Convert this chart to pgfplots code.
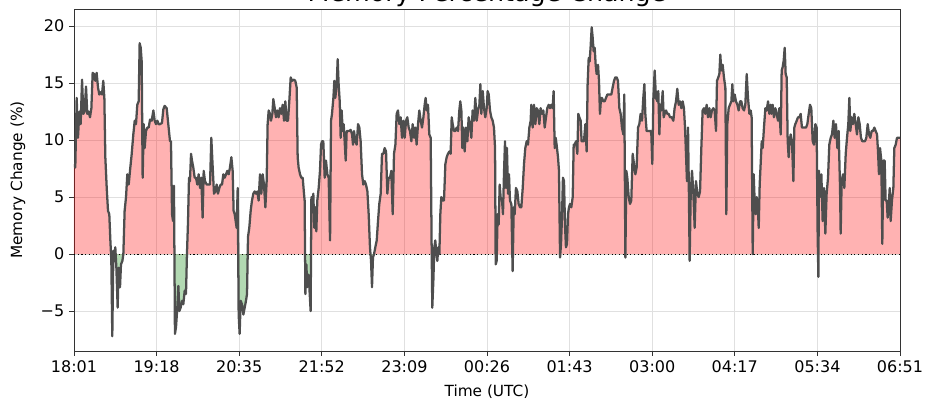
\documentclass[border=0pt]{standalone}
\usepackage{fontspec}
\setmainfont{DejaVu Sans}
\usepackage{pgfplots}
\usepackage{pgfplotstable}
\pgfplotsset{compat=1.18}
\usetikzlibrary{calc}
\definecolor{linegray}{RGB}{78,78,78}
\definecolor{gridgray}{RGB}{224,224,224}
\definecolor{mplgreen}{RGB}{0,128,0}
\pgfplotstableread{
t v
0.0 7.9
1.2 7.6
2.5 13.7
3.7 10.2
5.0 12.5
6.2 11.4
7.5 15.3
8.7 12.3
9.9 12.5
11.2 14.7
12.4 12.3
13.7 12.5
14.9 12.0
16.2 12.8
17.4 15.9
18.6 15.8
19.9 15.2
21.1 15.9
22.4 14.6
23.6 14.0
24.9 14.2
26.1 14.0
27.3 15.2
28.3 13.7
29.2 8.5
30.5 5.8
31.7 3.8
32.9 3.5
33.9 1.2
34.8 -0.6
35.7 -7.2
36.7 0.3
37.6 -0.6
38.5 0.6
39.5 -1.2
40.7 -4.7
41.6 -1.2
42.9 -2.9
43.8 -0.9
45.1 -0.6
46.0 0.0
47.2 3.8
48.5 5.0
49.7 7.0
51.0 6.1
52.2 7.3
53.8 8.8
55.3 10.5
56.6 11.7
57.8 11.4
59.0 13.1
60.3 13.4
61.2 18.5
62.2 18.1
63.1 16.9
64.0 6.7
65.0 11.4
65.9 9.3
67.1 10.8
68.4 11.1
69.6 11.1
70.9 11.8
72.4 11.7
74.0 12.6
75.2 11.7
76.4 11.4
77.7 11.7
78.9 11.4
80.2 11.4
82.0 11.5
83.3 12.7
84.5 13.0
86.4 12.8
87.9 11.4
89.5 9.9
90.4 9.9
91.4 3.5
92.3 2.9
93.2 6.0
94.1 -7.0
95.1 -6.4
96.3 -4.7
97.3 -2.8
98.2 -5.0
99.4 -4.7
100.7 -4.1
101.9 -4.4
103.2 -3.2
104.4 -3.5
105.3 0.0
106.3 2.9
107.2 6.7
108.1 6.4
109.1 8.8
110.0 8.2
111.2 7.6
112.5 6.7
113.7 6.7
115.0 6.1
116.2 7.0
117.5 5.8
118.7 6.7
119.9 3.2
120.9 7.3
122.1 6.4
123.7 6.1
125.2 6.1
126.8 6.1
128.0 10.2
129.3 7.6
130.5 5.3
131.8 5.5
133.0 6.1
134.2 5.3
135.5 5.8
136.7 6.1
138.0 6.1
139.2 7.0
140.5 6.7
141.7 7.0
142.9 7.3
144.2 7.0
145.4 7.6
146.7 8.5
147.9 7.3
148.8 3.8
149.8 3.5
150.7 2.9
151.6 2.3
152.6 5.8
153.5 -5.3
154.4 -7.0
155.4 -4.1
156.6 -4.4
157.9 -5.3
159.1 -4.7
160.3 -4.1
161.3 -3.5
162.2 1.5
163.4 2.3
164.7 3.8
165.9 4.7
167.2 5.3
168.4 5.5
169.7 5.3
170.9 5.5
172.1 4.7
173.4 7.0
174.6 5.3
175.9 7.0
177.1 6.1
178.4 4.1
179.6 6.4
180.5 11.4
181.5 12.6
182.7 12.3
183.6 11.7
184.9 12.3
185.8 13.6
187.1 12.8
188.3 12.0
189.5 12.6
190.8 12.0
192.0 12.8
193.3 12.3
194.5 13.1
195.8 11.7
197.0 13.4
198.2 11.7
199.5 11.7
200.7 13.4
202.0 15.5
203.2 15.2
205.1 15.3
206.3 15.2
207.6 14.6
208.5 8.5
209.4 7.6
210.7 7.0
211.9 6.7
213.2 6.7
214.4 5.3
215.0 4.7
215.7 -3.5
216.6 -0.9
217.5 -2.9
218.5 -1.8
219.4 -2.9
220.6 -5.0
221.3 5.0
222.2 4.4
223.1 5.3
224.0 2.3
225.0 4.1
225.9 2.0
226.8 4.7
228.1 5.8
229.3 7.3
230.3 9.6
231.2 9.9
232.4 9.9
233.7 6.7
234.9 8.2
236.2 7.0
237.4 6.7
238.7 1.2
239.6 11.7
240.5 12.3
241.8 13.7
242.7 15.2
243.6 13.7
244.9 14.9
245.8 17.1
246.7 14.9
247.7 13.4
248.6 10.2
249.5 12.6
250.5 10.8
251.4 11.4
252.3 9.9
253.3 8.2
254.2 10.8
255.4 10.8
256.7 10.8
257.9 10.9
259.2 10.5
260.1 9.6
261.0 10.8
262.3 9.9
263.5 9.6
264.8 11.4
266.0 11.1
267.2 9.9
268.5 7.0
269.7 6.1
271.0 6.4
272.2 6.1
273.5 5.5
274.7 3.5
275.9 0.6
276.9 -0.6
277.8 -2.9
278.7 -0.3
279.7 0.0
280.9 0.6
282.2 1.2
283.4 2.9
284.6 4.4
285.9 5.3
287.1 8.8
288.4 8.8
289.6 9.3
290.9 9.0
292.1 5.3
293.3 6.7
294.6 6.7
295.8 7.3
297.1 3.5
298.3 8.8
299.6 9.6
300.8 12.3
302.0 12.6
303.3 11.4
304.5 12.0
305.8 10.2
307.0 11.7
308.3 10.2
309.5 11.7
310.7 12.0
312.0 11.1
313.2 10.8
314.5 9.9
315.7 11.4
317.0 10.2
318.2 11.1
319.4 9.6
320.7 11.4
321.9 12.6
323.2 11.7
324.4 11.1
325.7 12.0
326.9 13.1
327.8 13.7
328.8 12.6
330.0 13.1
331.2 10.5
332.5 10.2
333.4 0.6
334.0 -4.7
335.0 -2.3
335.9 0.6
336.8 1.2
337.8 0.0
338.7 -0.6
339.6 0.6
340.6 0.0
341.5 3.5
342.4 5.0
343.7 4.7
344.9 4.7
346.2 7.9
347.4 8.5
348.6 8.8
349.9 9.0
351.1 8.8
352.1 12.0
353.0 11.4
354.2 10.8
355.5 10.8
356.7 11.1
358.0 10.8
359.2 12.6
360.1 13.4
361.1 12.6
362.0 9.3
362.9 11.1
364.2 9.0
365.4 11.1
366.7 9.9
367.9 12.0
369.2 11.4
370.4 10.2
371.6 12.6
372.9 11.7
374.1 13.7
375.4 11.7
376.6 12.6
377.9 13.1
378.8 14.9
379.7 12.3
381.0 14.3
382.2 12.8
383.4 12.0
384.7 12.8
385.6 14.3
386.6 14.0
387.8 12.6
389.0 12.0
390.3 11.7
391.5 11.1
392.5 9.3
393.1 -0.9
394.0 -0.6
394.9 3.5
395.9 2.6
396.8 6.1
397.7 5.0
399.0 4.7
399.9 3.5
400.9 7.3
401.8 9.9
402.7 5.8
403.6 9.3
404.6 5.3
405.5 7.0
406.4 4.7
407.7 4.4
408.9 -1.5
409.9 4.1
410.8 3.5
412.0 5.8
413.3 5.5
414.5 4.4
415.8 4.1
417.0 4.1
418.3 5.8
419.5 7.9
420.7 9.3
422.0 9.9
423.2 9.6
424.5 11.1
425.7 11.7
426.3 13.1
427.6 11.1
428.8 13.1
430.1 11.4
431.3 12.8
432.5 12.6
433.8 11.4
435.0 12.8
436.3 12.3
437.5 12.6
438.8 11.1
440.0 12.0
441.2 12.8
442.5 13.1
443.7 12.8
445.0 13.1
446.2 12.8
447.1 14.3
448.1 9.3
449.0 10.2
449.9 9.6
451.2 8.5
452.1 7.3
453.1 -0.3
454.0 0.9
454.9 3.2
455.8 6.7
456.8 6.4
457.7 2.6
458.6 0.6
459.6 0.9
460.5 3.5
461.4 4.1
462.4 4.4
463.6 4.1
464.9 5.0
465.8 9.6
466.7 9.6
468.0 9.9
469.2 8.8
470.1 12.3
471.1 12.0
472.3 11.7
473.2 9.9
474.2 9.9
475.4 9.9
476.7 11.4
477.9 9.0
478.8 14.9
479.8 17.2
480.7 16.9
481.6 18.2
482.6 19.9
483.5 19.0
484.4 17.8
485.4 18.1
486.3 16.6
487.2 15.8
488.5 16.6
489.4 15.2
490.3 12.3
491.3 13.7
492.2 13.7
493.4 13.4
494.7 13.4
495.9 13.7
497.2 14.0
498.4 14.0
499.7 14.0
500.9 14.0
502.1 14.6
503.4 15.2
504.6 15.5
505.9 15.5
507.1 15.2
508.4 12.8
509.6 12.3
510.8 11.1
512.1 10.5
513.0 14.0
514.0 -0.3
514.9 7.3
515.8 6.7
517.1 5.0
518.3 4.4
519.5 4.7
520.8 8.8
522.0 7.9
523.3 7.0
524.5 7.6
525.8 11.1
527.0 11.4
528.2 12.3
529.5 11.7
530.7 13.7
531.7 14.9
532.6 12.3
533.8 10.8
535.7 10.8
537.6 10.8
538.2 10.5
539.1 7.9
540.1 13.7
541.3 16.1
542.5 13.7
543.8 13.4
544.7 14.3
545.7 10.5
546.6 13.1
547.5 12.6
548.8 14.3
549.7 12.0
550.6 12.3
551.9 12.6
553.1 12.3
554.4 12.3
555.6 12.0
557.2 12.0
558.7 11.7
559.9 12.8
561.2 13.4
562.4 14.5
563.7 13.1
564.9 13.4
566.2 12.8
567.4 13.4
568.6 12.8
569.6 11.1
570.5 8.8
571.4 6.4
572.4 11.1
573.3 4.7
573.9 -0.6
574.9 5.3
576.1 7.3
577.3 5.5
578.6 2.3
579.8 6.4
581.1 5.3
582.3 5.0
583.6 5.5
584.8 9.3
586.0 12.6
587.3 12.8
588.5 12.3
589.8 13.1
591.0 12.0
592.3 12.8
593.5 12.0
594.7 12.6
596.0 12.8
597.2 12.6
598.5 10.8
599.4 15.2
600.6 15.5
601.6 15.8
602.5 17.5
603.4 16.1
604.7 16.6
605.9 15.5
607.2 14.6
608.1 3.5
609.0 11.4
610.3 12.8
611.5 13.1
612.8 13.4
613.7 14.9
614.6 13.4
615.9 14.0
617.1 13.4
618.4 13.1
619.6 12.6
620.9 13.4
622.1 13.4
623.3 12.8
624.6 12.6
625.8 13.1
627.1 15.8
628.3 13.7
629.6 12.3
630.8 12.6
631.7 12.0
632.7 0.0
633.6 7.0
634.5 4.7
635.5 3.5
636.4 5.0
637.3 4.4
638.3 2.3
639.2 6.1
640.1 7.9
641.1 9.9
642.0 9.3
643.2 11.1
644.5 12.8
645.7 12.6
647.0 13.4
648.2 12.3
649.4 13.1
650.1 12.3
651.3 13.1
652.5 12.0
653.8 12.8
655.0 12.3
656.3 11.7
657.5 12.8
658.8 10.5
659.7 16.1
660.6 16.4
661.6 17.0
662.5 18.1
663.4 15.8
664.4 15.5
665.3 9.9
666.2 8.5
667.1 9.9
668.1 10.5
669.3 9.9
670.6 6.4
671.5 11.1
672.4 11.4
673.7 11.7
674.9 12.0
676.2 12.0
677.4 12.3
678.6 11.1
679.9 11.1
681.1 11.1
682.4 11.1
683.6 11.4
684.9 12.3
686.1 13.1
687.3 12.8
688.6 9.9
689.8 9.6
691.1 11.4
692.3 11.1
693.2 2.0
693.9 -2.0
694.5 7.3
695.4 5.0
696.7 7.0
697.9 2.9
699.2 5.8
700.4 1.8
701.6 5.3
702.9 6.7
704.1 9.6
705.4 10.2
706.6 10.5
707.9 11.7
709.1 10.2
710.3 11.4
711.6 9.3
712.8 10.8
714.1 5.8
714.7 1.8
715.6 6.4
716.9 7.0
718.1 5.8
719.4 8.8
720.6 10.2
721.8 11.4
722.8 13.7
723.7 10.8
724.9 12.0
726.2 11.4
727.4 12.3
728.7 11.4
729.9 10.5
731.2 12.0
732.4 11.4
733.6 10.2
734.9 9.9
736.1 9.9
737.4 9.9
738.6 10.2
739.9 11.4
741.1 10.5
742.3 10.2
743.6 10.8
744.8 10.8
746.1 11.1
747.3 10.8
748.6 10.5
749.5 9.0
750.4 7.0
751.4 9.3
752.6 8.2
753.5 0.9
754.5 8.2
755.7 8.2
756.6 4.7
757.6 4.7
758.5 3.2
759.4 4.1
760.4 5.8
761.3 2.9
762.5 4.7
763.8 5.8
764.7 9.3
766.0 9.6
767.2 10.2
768.4 10.2
770.0 10.2
}\memdata
\begin{document}
\begin{tikzpicture}
\begin{axis}[
  name=ax,
  scale only axis,
  width=619.5pt, height=256.5pt,
  xmin=0, xmax=770, ymin=-8.5, ymax=21.5,
  xtick={0,77,154,231,308,385,462,539,616,693,770},
  xticklabels={18:01,19:18,20:35,21:52,23:09,00:26,01:43,03:00,04:17,05:34,06:51},
  ytick={-5,0,5,10,15,20},
  yticklabels={−5,0,5,10,15,20},
  tick pos=left, tick align=outside,
  major tick length=3.75pt,
  tick style={black!80, line width=0.6pt},
  axis line style={black!80, line width=0.6pt},
  grid=major,
  grid style={gridgray, line width=0.6pt},
  ticklabel style={font=\fontsize{12}{14}\selectfont},
  xlabel={Time (UTC)}, ylabel={Memory Change (\%)},
  label style={font=\fontsize{11.5}{13}\selectfont},
  xlabel style={at={(axis description cs:0.5,-0.12)}, anchor=center},
  ylabel style={at={(axis description cs:-0.068,0.5)}, anchor=center},
  clip=true,
]
\addplot[fill=red, fill opacity=0.3, draw=none] table[x=t, y expr={max(\thisrow{v},0)}] {\memdata} \closedcycle;
\addplot[fill=mplgreen, fill opacity=0.3, draw=none] table[x=t, y expr={min(\thisrow{v},0)}] {\memdata} \closedcycle;
\addplot[black, line width=0.8pt, dotted] coordinates {(0,0) (770,0)};
\addplot[linegray, line width=1.7pt, line join=round] table[x=t,y=v] {\memdata};
\end{axis}
\node[anchor=base, font=\fontsize{19}{21}\selectfont] at ($(ax.north)+(0,5.5pt)$) {Memory Percentage Change};
\pgfresetboundingbox
\path[use as bounding box] ($(ax.south west)+(-55.5pt,-38.25pt)$) rectangle ($(ax.north east)+(19.5pt,6.75pt)$);
\end{tikzpicture}
\end{document}
